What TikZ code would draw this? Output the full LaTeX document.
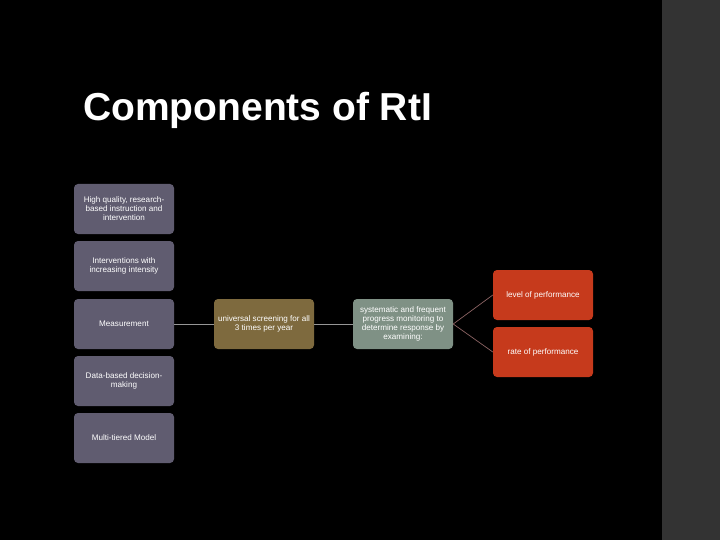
\documentclass[tikz,border=0pt]{standalone}
\usepackage{fontspec}
\setmainfont{Liberation Sans}
\definecolor{bg}{RGB}{0,0,0}
\definecolor{band}{RGB}{51,51,51}
\definecolor{boxpurple}{RGB}{96,92,112}
\definecolor{boxolive}{RGB}{126,106,62}
\definecolor{boxsage}{RGB}{127,145,133}
\definecolor{boxred}{RGB}{198,58,28}
\definecolor{linegray}{RGB}{150,150,150}
\definecolor{linered}{RGB}{140,100,100}
\begin{document}
\begin{tikzpicture}[x=1pt,y=-1pt,
  card/.style={rounded corners=4pt, minimum width=100pt, minimum height=50pt,
    align=center, text=white, font=\fontsize{8.1}{9}\selectfont, inner sep=0pt},
  conn/.style={draw=linegray, line width=0.7pt},
  connr/.style={draw=linered, line width=0.7pt}]
\fill[bg] (0,0) rectangle (720,540);
\fill[band] (662,0) rectangle (720,540);
\useasboundingbox (0,0) rectangle (720,540);
\node[anchor=base west, text=white, font=\fontsize{39}{44}\bfseries\selectfont, inner sep=0pt] (title) at (83,121) {Components of RtI};
\node[card, fill=boxpurple] (a1) at (124,209) {High quality, research-\\based instruction and\\intervention};
\node[card, fill=boxpurple] (a2) at (124,266) {Interventions with\\increasing intensity};
\node[card, fill=boxpurple] (a3) at (124,324) {Measurement};
\node[card, fill=boxpurple] (a4) at (124,381) {Data-based decision-\\making};
\node[card, fill=boxpurple] (a5) at (124,438) {Multi-tiered Model};
\node[card, fill=boxolive] (b) at (264,324) {universal screening for all\\3 times per year};
\node[card, fill=boxsage] (c) at (403,324) {systematic and frequent\\progress monitoring to\\determine response by\\examining:};
\node[card, fill=boxred] (d1) at (543,295) {level of performance};
\node[card, fill=boxred] (d2) at (543,352) {rate of performance};
\draw[conn] (a3.east) -- (b.west);
\draw[conn] (b.east) -- (c.west);
\draw[connr] (c.east) -- (d1.west);
\draw[connr] (c.east) -- (d2.west);
\end{tikzpicture}
\end{document}
